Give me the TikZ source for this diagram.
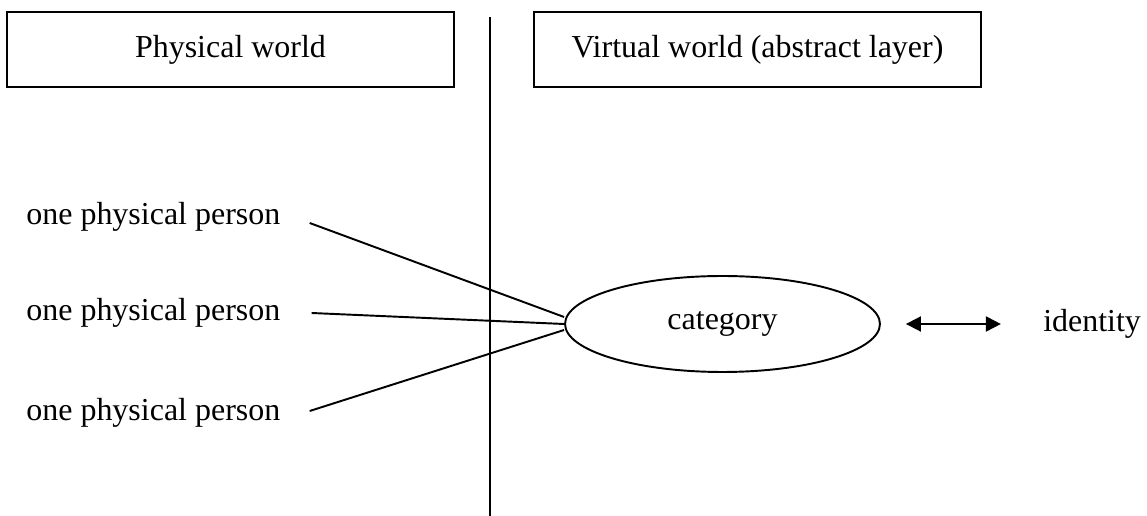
\documentclass[tikz,border=0pt]{standalone}
\usepackage{fontspec}
\setmainfont{Liberation Serif}
\usetikzlibrary{positioning, shapes.geometric, arrows.meta}

\begin{document}
\begin{tikzpicture}[
  x=0.02cm, y=-0.02cm,
  txt/.style={font=\fontsize{18.2}{22}\selectfont, inner sep=0pt},
  world/.style={rectangle, draw, line width=1.1pt, txt,
                minimum width=8.94cm, minimum height=1.5cm},
  oval/.style={ellipse, draw, line width=1.1pt, txt,
               minimum width=6.3cm, minimum height=1.92cm},
  link/.style={line width=1.1pt},
  dbl/.style={{Triangle[length=0.3cm,width=0.3cm]}-{Triangle[length=0.3cm,width=0.3cm]},
              line width=1.1pt}
]
  \useasboundingbox (0,0) rectangle (1147,516);

  \node[world] (phys) at (230.5,49.5) {Physical world};
  \node[world] (virt) at (757.5,49.5) {Virtual world (abstract layer)};

  % divider between the two worlds
  \coordinate (divtop) at (490,17);
  \coordinate (divbot) at (490,516);
  \draw[link] (divtop) -- (divbot);

  \node[txt, anchor=west] (p1) at (26,217) {one physical person};
  \node[txt, anchor=west] (p2) at (26,313) {one physical person};
  \node[txt, anchor=west] (p3) at (26,413) {one physical person};

  \node[oval] (cat) at (722.5,324) {category};
  \node[txt, right=3.24cm of cat] (id) {identity};

  \draw[link] ([xshift=0.58cm,yshift=-0.12cm]p1.east) -- ([yshift=0.14cm]cat.west);
  \draw[link] ([xshift=0.62cm]p2.east) -- (cat.west);
  \draw[link] ([xshift=0.58cm,yshift=0.04cm]p3.east) -- ([yshift=-0.12cm]cat.west);
  \draw[dbl] ([xshift=0.5cm]cat.east) -- ([xshift=-0.84cm]id.west);
\end{tikzpicture}
\end{document}
